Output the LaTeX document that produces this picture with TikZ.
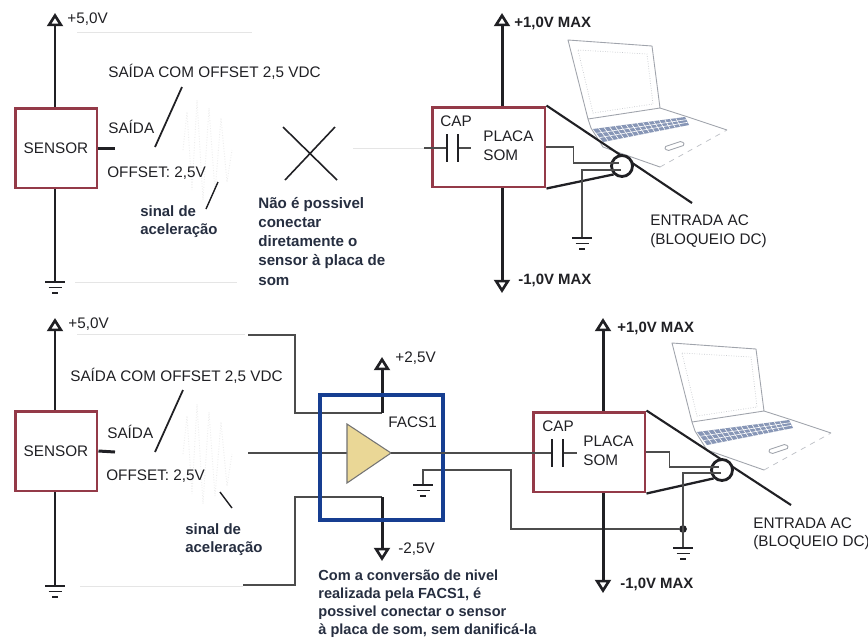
\documentclass[tikz,border=0pt]{standalone}
\usepackage{fontspec}
\setmainfont{Liberation Sans}
\usetikzlibrary{arrows.meta,calc}

\definecolor{boxred}{RGB}{148,58,72}
\definecolor{boxblue}{RGB}{22,62,145}
\definecolor{ampfill}{RGB}{234,215,150}
\definecolor{ink}{RGB}{32,32,36}
\definecolor{noteink}{RGB}{38,46,64}
\definecolor{sketch}{RGB}{160,164,172}
\definecolor{keys}{RGB}{135,150,182}

\tikzset{
  rail/.style={line width=1.7pt, draw=ink},
  supply/.style={rail, -{Triangle[open, length=7.5pt, width=9pt, line width=1.5pt]}},
  wire/.style={line width=0.75pt, draw=black!70},
  faint/.style={line width=0.5pt, draw=black!10},
  lead/.style={line width=1pt, draw=ink},
  plate/.style={line width=1.5pt, draw=ink},
  redbox/.style={draw=boxred, line width=1.7pt, inner sep=0, minimum height=1.6cm,
    text=ink, font=\fontsize{8.7}{10}\selectfont},
  jack/.style={circle, draw=ink, fill=white, line width=1.6pt, minimum size=0.42cm, inner sep=0},
  joint/.style={circle, fill=ink, inner sep=0, minimum size=4.4pt},
  lbl/.style={inner sep=0, text=ink, anchor=base west, font=\fontsize{8.7}{10}\selectfont},
  blbl/.style={lbl, font=\bfseries\fontsize{8.5}{10}\selectfont},
  note/.style={inner sep=0, text=noteink, anchor=north west, align=left},
  gnd/.pic={\draw[line width=1.1pt, draw=ink] (-10,0) -- (10,0) (-6.5,5.5) -- (6.5,5.5) (-3,11) -- (3,11);},
  burst/.pic={
    \draw[black!7, line width=0.5pt, densely dotted]
      (183,150) -- (187,112) -- (192,190) -- (197,100) -- (203,200) -- (209,108)
      -- (215,192) -- (221,118) -- (227,182) -- (232,150);},
  laptop/.pic={
    \draw[sketch, line width=0.5pt, line join=round]
      (568,40) -- (652,46) -- (660,108) -- (588,119) -- cycle;
    \draw[sketch!60, line width=0.4pt, densely dotted]
      (578,50) -- (647,54) -- (653,104) -- (593,113) -- cycle;
    \draw[sketch, line width=0.5pt, line join=round]
      (588,119) -- (591,128) -- (603,147) -- (660,167)
      (660,108) -- (688,117) -- (727,130);
    \draw[sketch!70, line width=0.4pt, dashed] (660,167) -- (727,130);
    \fill[keys] (593,129) -- (685,117) -- (689,125) -- (603,142) -- cycle;
    \foreach \t in {0.33,0.66}
      \draw[white, line width=0.35pt] ($(593,129)!\t!(603,142)$) -- ($(685,117)!\t!(689,125)$);
    \foreach \t in {0.06,0.12,...,0.95}
      \draw[white, line width=0.35pt] ($(593,129)!\t!(685,117)$) -- ($(603,142)!\t!(689,125)$);
    \draw[sketch, line width=0.5pt, rounded corners=1pt]
      (664,147) -- (682,141) -- (685,145) -- (667,151) -- cycle;},
}

\begin{document}
\begin{tikzpicture}[x=0.02cm, y=-0.02cm]
\useasboundingbox (0,0) rectangle (868,640);
\fill[white] (0,0) rectangle (868,640);

%% ================= upper circuit: direct connection =================
\draw[faint] (77,32) -- (252,32) (75,282) -- (237,282) (353,148) -- (424,148);
\pic at (0,0) {burst};
\pic at (0,0) {laptop};

% sensor with its supply
\node[redbox, minimum width=1.64cm] (sensA) at (56,148) {SENSOR};
\coordinate (vsA) at (55,13);
\coordinate (gsA) at (55,282);
\coordinate (outA) at (115,148);
\draw[supply] (sensA.north -| vsA) -- (vsA);
\draw[rail] (sensA.south -| gsA) -- (gsA);
\pic at (gsA) {gnd};
\draw[rail] (sensA.east) -- (outA);
\node[lbl] (v5A) at (67,23) {+5,0V};

\node[lbl] (offA) at (108,77) {SAÍDA COM OFFSET 2,5 VDC};
\node[lbl] (saiA) at (108,133) {SAÍDA};
\node[lbl] (ofsA) at (107,177) {OFFSET: 2,5V};
\node[note, font=\bfseries\fontsize{8.5}{10.4}\selectfont] (acA) at (140,205) {sinal de\\aceleração};
\coordinate (pa1) at (182,87);  \coordinate (pa2) at (155,147);
\coordinate (pb1) at (218,182); \coordinate (pb2) at (206,209);
\draw[lead] (pa1) -- (pa2);
\draw[lead, line width=0.8pt] (pb1) -- (pb2);

% crossed-out connection
\coordinate (xa) at (283,127); \coordinate (xb) at (337,180);
\coordinate (xc) at (335,127); \coordinate (xd) at (285,180);
\draw[line width=0.9pt, ink] (xa) -- (xb) (xc) -- (xd);
\node[note, font=\bfseries\fontsize{8.6}{10.9}\selectfont] (noteA) at (258,197)
  {Não é possivel\\conectar\\diretamente o\\sensor à placa de\\som};

% sound card
\node[redbox, minimum width=2.26cm] (placaA) at (488.5,147) {};
\coordinate (vpA) at (502,13);
\coordinate (vmA) at (502,293);
\draw[supply] (placaA.north -| vpA) -- (vpA);
\draw[supply] (placaA.south -| vmA) -- (vmA);
\node[blbl] (maxpA) at (514,27) {+1,0V MAX};
\node[blbl] (maxmA) at (518,284) {-1,0V MAX};

\coordinate (cinA) at (424,148);
\coordinate (capA1) at (447,148); \coordinate (capA2) at (458,148);
\coordinate (coutA) at (471,148);
\draw[wire] (cinA) -- (capA1);
\draw[wire] (capA2) -- (coutA);
\draw[plate] (447,134) -- (447,162) (458,134) -- (458,162);
\node[lbl] (capA) at (440,126) {CAP};
\node[lbl] (plA) at (483,141) {PLACA};
\node[lbl] (somA) at (483,160) {SOM};

% AC input jack
\coordinate (entA) at (692,203);
\draw[line width=1.2pt, ink] (placaA.north east) -- (entA);
\node[jack] (jackA) at (622,166) {};
\draw[line width=1.3pt, ink] (placaA.south east) -- (jackA.225);
\coordinate (tipA) at (619,163);
\draw[wire] (placaA.east) -- ++(27,0) |- (tipA);
\coordinate (retA) at (621,170);
\coordinate (gpA) at (582,238);
\draw[wire] (retA) -| (gpA);
\pic at (gpA) {gnd};
\node[lbl] (entrA) at (650,225) {ENTRADA AC};
\node[lbl] (bloqA) at (650,244) {(BLOQUEIO DC)};

%% ================= lower circuit: through FACS1 =================
\draw[faint] (77,334) -- (245,334) (80,586) -- (243,586);
\pic at (0,304) {burst};
\pic at (104,303) {laptop};

\node[redbox, minimum width=1.64cm] (sensB) at (56,451) {SENSOR};
\coordinate (vsB) at (55,318);
\coordinate (gsB) at (55,586);
\coordinate (outB) at (115,452);
\draw[supply] (sensB.north -| vsB) -- (vsB);
\draw[rail] (sensB.south -| gsB) -- (gsB);
\pic at (gsB) {gnd};
\draw[rail] (sensB.east) -- (outB);
\node[lbl] (v5B) at (68,328) {+5,0V};

\node[lbl] (offB) at (70,381) {SAÍDA COM OFFSET 2,5 VDC};
\node[lbl] (saiB) at (107,438) {SAÍDA};
\node[lbl] (ofsB) at (106,480) {OFFSET: 2,5V};
\node[note, font=\bfseries\fontsize{8.5}{10.4}\selectfont] (acB) at (185,523) {sinal de\\aceleração};
\coordinate (pc1) at (183,390); \coordinate (pc2) at (155,452);
\coordinate (pd1) at (220,492); \coordinate (pd2) at (232,508);
\draw[lead] (pc1) -- (pc2);
\draw[lead, line width=0.8pt] (pd1) -- (pd2);

% level converter FACS1
\coordinate (ampIn) at (347,453);
\coordinate (ampOut) at (391,453);
\coordinate (inB) at (248,453);
\draw[wire] (inB) -- (ampIn);
\filldraw[fill=ampfill, draw=black!55, line width=0.6pt] (347,424) -- (ampOut) -- (347,483) -- cycle;

\coordinate (p25) at (382,357); \coordinate (j25) at (382,413); \coordinate (s25) at (248,335);
\draw[wire] (s25) -| (295,413) -- (j25);
\draw[supply] (j25) -- (p25);
\node[lbl] (lp25) at (395,362) {+2,5V};

\coordinate (m25) at (382,561); \coordinate (jm25) at (382,497); \coordinate (sm25) at (243,585);
\draw[wire] (sm25) -| (295,497) -- (jm25);
\draw[supply] (jm25) -- (m25);
\node[lbl] (lm25) at (398,553) {-2,5V};

\coordinate (fg) at (423,485);
\node[joint] (dotB) at (683,529) {};
\draw[wire] (fg) -- (423,470) -| (511,529) -- (dotB);
\pic at (fg) {gnd};

\node[draw=boxblue, line width=1.8pt, minimum width=2.46cm, minimum height=2.5cm, inner sep=0]
  (facs) at (381.5,457.5) {};
\node[lbl] (facsl) at (388,427) {FACS1};

\node[note, font=\bfseries\fontsize{8.3}{10.2}\selectfont] (noteB) at (318,570)
  {Com a conversão de nivel\\realizada pela FACS1, é\\possivel conectar o sensor\\à placa de som, sem danificá-la};

% sound card
\node[redbox, minimum width=2.24cm] (placaB) at (589,452) {};
\coordinate (vpB) at (603,318);
\coordinate (vmB) at (603,593);
\draw[supply] (placaB.north -| vpB) -- (vpB);
\draw[supply] (placaB.south -| vmB) -- (vmB);
\node[blbl] (maxpB) at (617,332) {+1,0V MAX};
\node[blbl] (maxmB) at (620,588) {-1,0V MAX};

\coordinate (capB1) at (552,453); \coordinate (capB2) at (563,453);
\coordinate (coutB) at (577,453);
\draw[wire] (ampOut) -- (capB1);
\draw[wire] (capB2) -- (coutB);
\draw[plate] (552,439) -- (552,467) (563,439) -- (563,467);
\node[lbl] (capB) at (542,431) {CAP};
\node[lbl] (plB) at (583,446) {PLACA};
\node[lbl] (somB) at (583,465) {SOM};

\coordinate (entB) at (791,505);
\draw[line width=1.2pt, ink] (placaB.north east) -- (entB);
\node[jack] (jackB) at (722,470) {};
\draw[line width=1.3pt, ink] (placaB.south east) -- (jackB.225);
\coordinate (tipB) at (719,467);
\draw[wire] (placaB.east) -- ++(23,0) |- (tipB);
\coordinate (retB) at (721,473);
\coordinate (gpB) at (683,548);
\draw[wire] (retB) -| (gpB);
\pic at (gpB) {gnd};
\node[lbl] (entrB) at (753,528) {ENTRADA AC};
\node[lbl] (bloqB) at (753,546) {(BLOQUEIO DC)};
\end{tikzpicture}
\end{document}
